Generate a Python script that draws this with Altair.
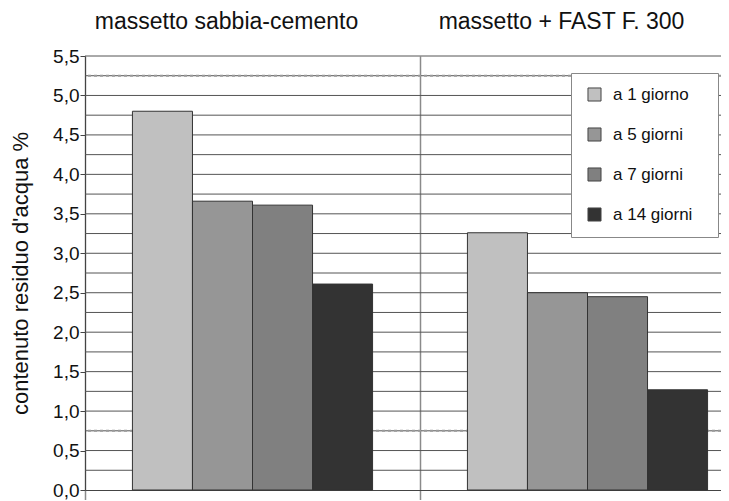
import altair as alt
import pandas as pd

groups = ["massetto sabbia-cemento", "massetto + FAST F. 300"]
series = ["a 1 giorno", "a 5 giorni", "a 7 giorni", "a 14 giorni"]
values_g1 = [4.80, 3.66, 3.61, 2.61]
values_g2 = [3.26, 2.50, 2.45, 1.27]
colors = ["#c0c0c0", "#969696", "#808080", "#333333"]
major_ticks = [0.0, 0.5, 1.0, 1.5, 2.0, 2.5, 3.0, 3.5, 4.0, 4.5, 5.0, 5.5]
grid_lines = [0.25, 0.5, 0.75, 1.0, 1.25, 1.5, 1.75, 2.0, 2.25, 2.5, 2.75, 3.0,
              3.25, 3.5, 3.75, 4.0, 4.25, 4.5, 4.75, 5.0, 5.25, 5.5]
dashed_lines = [0.75, 5.25]

rows = []
for g, vals in zip(groups, [values_g1, values_g2]):
    for s, v in zip(series, vals):
        rows.append({"gruppo": g, "serie": s, "valore": v})
df = pd.DataFrame(rows)
grid_df = pd.DataFrame({"y": grid_lines})
dash_df = pd.DataFrame({"y": dashed_lines})
title_df = pd.DataFrame({"gruppo": groups})

FONT = "Liberation Sans"

xscale = alt.Scale(domain=groups, range=[0, 670], paddingInner=0, paddingOuter=0)
yscale = alt.Scale(domain=[0, 5.5], nice=False, zero=True)

xaxis = alt.Axis(title=None, labels=False, bandPosition=0, grid=True, gridColor="#8a8a8a",
                 gridWidth=1.5, ticks=True, tickSize=10, tickColor="#8a8a8a", tickWidth=1.5,
                 domainColor="#444444", domainWidth=1)
yaxis = alt.Axis(title="contenuto residuo d'acqua %", values=major_ticks, grid=False,
                 labelExpr="replace(format(datum.value, '.1f'), '.', ',')",
                 labelOverlap=False,
                 labelFont=FONT, labelFontSize=19, labelColor="#111111", labelPadding=1,
                 tickSize=5, tickColor="#444444", domainColor="#444444",
                 titleFont=FONT, titleFontSize=22, titleFontWeight="normal",
                 titleColor="#111111", titlePadding=20)

PAD = "\u2800"

grid = alt.Chart(grid_df).mark_rule(color="#555555", strokeWidth=1).encode(
    y=alt.Y("y:Q", scale=yscale, axis=yaxis)
)
dashed = alt.Chart(dash_df).mark_rule(color="#999999", strokeWidth=2, strokeDash=[3, 3]).encode(
    y=alt.Y("y:Q", scale=yscale, axis=yaxis)
)

bars = alt.Chart(df).mark_bar(stroke="#333333", strokeWidth=1).encode(
    x=alt.X("gruppo:N", scale=xscale, axis=xaxis, sort=groups),
    xOffset=alt.XOffset("serie:N", sort=series,
                        scale=alt.Scale(paddingInner=0, paddingOuter=0.79)),
    y=alt.Y("valore:Q", scale=yscale, axis=yaxis),
    color=alt.Color("serie:N", sort=series, scale=alt.Scale(domain=series, range=colors),
                    legend=alt.Legend(title=None, orient="none", legendX=486, legendY=17,
                                      fillColor="white", strokeColor="#888888",
                                      padding=13, rowPadding=21, symbolType="square",
                                      symbolSize=170, symbolStrokeColor="#444444",
                                      symbolStrokeWidth=1, symbolOffset=2,
                                      labelExpr="datum.label + '" + PAD + "'",
                                      labelFont=FONT, labelFontSize=17, labelColor="#111111",
                                      labelOffset=10)),
)

titles = alt.Chart(title_df).mark_text(font=FONT, fontSize=23, color="#111111", dx=-26,
                                       baseline="middle").encode(
    x=alt.X("gruppo:N", scale=xscale, sort=groups),
    y=alt.value(-34),
    text="gruppo:N",
)

chart = alt.layer(grid, dashed, bars, titles).properties(
    width=636, height=434,
    autosize=alt.AutoSizeParams(type="none"),
    padding={"left": 77, "top": 48, "right": 0, "bottom": 10},
).configure_view(stroke=None).configure_axis(labelFont=FONT)

chart.save("out.html", embed_options={"renderer": "svg", "actions": False})
